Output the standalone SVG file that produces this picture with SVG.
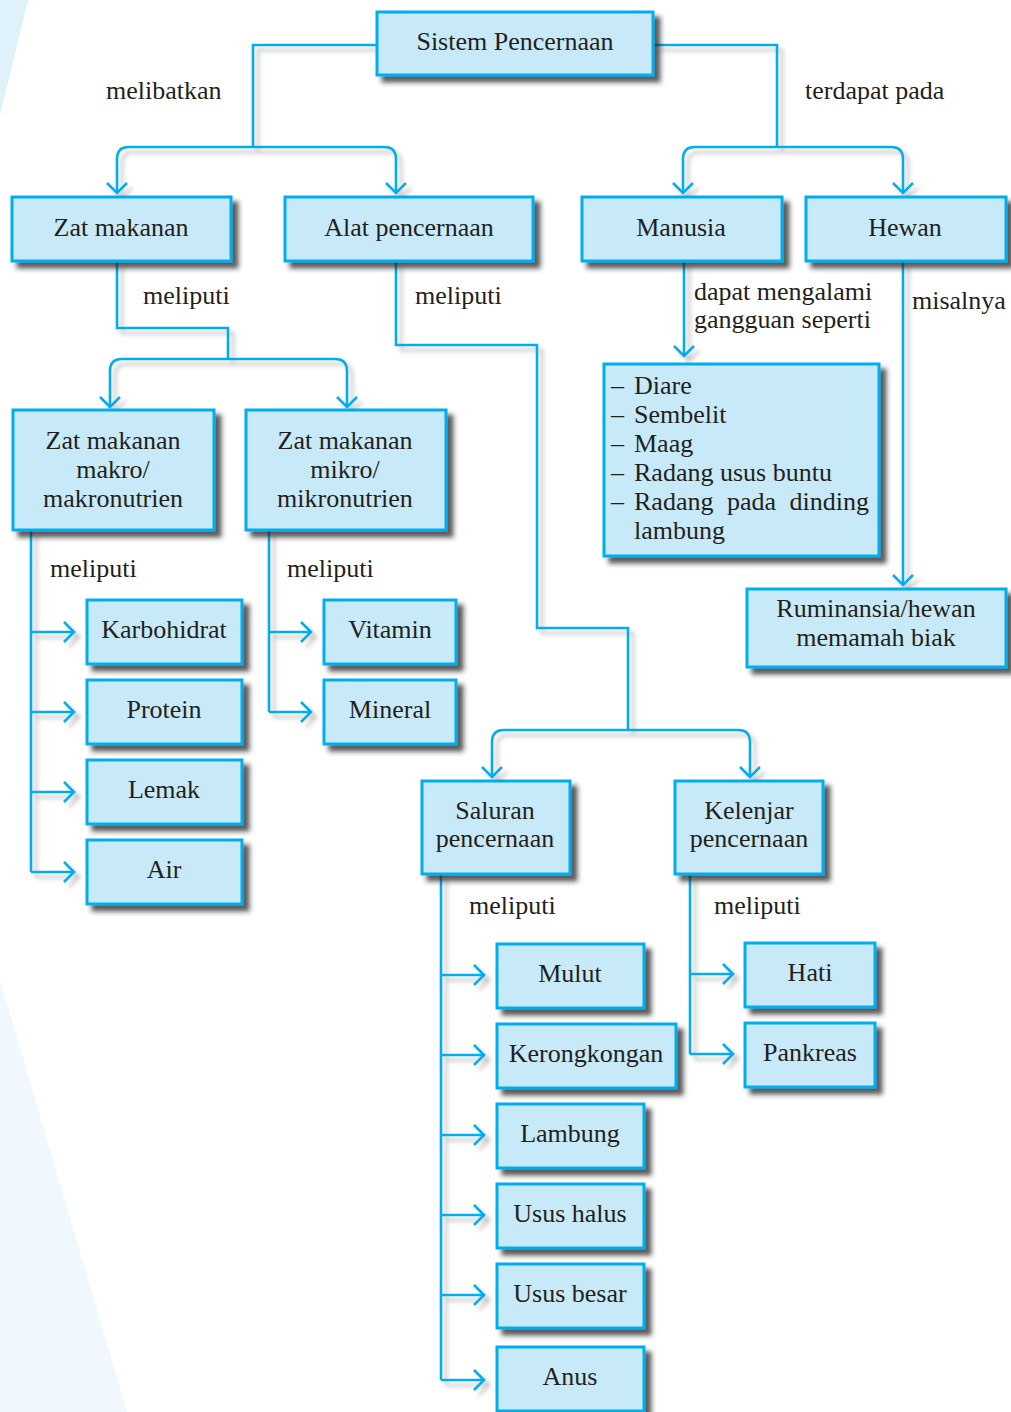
<svg xmlns="http://www.w3.org/2000/svg" width="1011" height="1412" viewBox="0 0 1011 1412">
<defs>
<filter id="bs" x="-10%" y="-10%" width="130%" height="140%">
<feDropShadow dx="6" dy="6" stdDeviation="2.5" flood-color="#222" flood-opacity="0.75"/>
</filter>
<filter id="ls" x="-5%" y="-5%" width="115%" height="115%">
<feDropShadow dx="5" dy="5" stdDeviation="2" flood-color="#777" flood-opacity="0.45"/>
</filter>
<marker id="ah" markerUnits="userSpaceOnUse" viewBox="-13 -12 15 24" refX="0" refY="0" markerWidth="15" markerHeight="24" orient="auto">
<path d="M-10,-10 L0,0 L-10,10" fill="none" stroke="#00aeef" stroke-width="2.6"/>
</marker>
</defs>
<style>
.box{fill:#c8e9f8;stroke:#00aeef;stroke-width:3;filter:url(#bs)}
.t{font-family:"Liberation Serif",serif;font-size:26px;fill:#231f20}
.c{text-anchor:middle}
.ln{fill:none;stroke:#00aeef;stroke-width:2.6}
.ar{marker-end:url(#ah)}
</style>
<rect width="1011" height="1412" fill="#ffffff"/>
<polygon points="0,0 28,0 0,115" fill="#dff1fb"/>
<polygon points="0,980 127,1412 0,1412" fill="#f0f8fd"/>

<g id="connectors" filter="url(#ls)">
<path class="ln" d="M376,45 H253 V147"/>
<path class="ln ar" d="M253,147 H129 Q117,147 117,159 V193"/>
<path class="ln ar" d="M253,147 H384 Q396,147 396,159 V193"/>
<path class="ln" d="M654,45 H777 V147"/>
<path class="ln ar" d="M777,147 H695 Q683,147 683,159 V193"/>
<path class="ln ar" d="M777,147 H891 Q903,147 903,159 V193"/>
<path class="ln ar" d="M684,262 V356"/>
<path class="ln ar" d="M903,262 V585"/>
<path class="ln" d="M117,262 V328 H228 V359"/>
<path class="ln ar" d="M228,359 H122 Q110,359 110,371 V407"/>
<path class="ln ar" d="M228,359 H335 Q347,359 347,371 V407"/>
<path class="ln" d="M31,531 V872"/>
<path class="ln ar" d="M31,632 H74"/>
<path class="ln ar" d="M31,712 H74"/>
<path class="ln ar" d="M31,792 H74"/>
<path class="ln ar" d="M31,872 H74"/>
<path class="ln" d="M269,531 V712"/>
<path class="ln ar" d="M269,632 H311"/>
<path class="ln ar" d="M269,712 H311"/>
<path class="ln" d="M396,262 V345 H537 V628 H628 V730"/>
<path class="ln ar" d="M628,730 H504 Q492,730 492,742 V777"/>
<path class="ln ar" d="M628,730 H738 Q750,730 750,742 V777"/>
<path class="ln" d="M441,875 V1380"/>
<path class="ln ar" d="M441,975 H484"/>
<path class="ln ar" d="M441,1055 H484"/>
<path class="ln ar" d="M441,1135 H484"/>
<path class="ln ar" d="M441,1215 H484"/>
<path class="ln ar" d="M441,1295 H484"/>
<path class="ln ar" d="M441,1380 H484"/>
<path class="ln" d="M690,875 V1054"/>
<path class="ln ar" d="M690,974 H733"/>
<path class="ln ar" d="M690,1054 H733"/>
</g>

<g id="labels">
<text class="t" x="106" y="99">melibatkan</text>
<text class="t" x="805" y="99">terdapat pada</text>
<text class="t" x="143" y="304">meliputi</text>
<text class="t" x="415" y="304">meliputi</text>
<text class="t" x="694" y="300">dapat mengalami</text>
<text class="t" x="694" y="328">gangguan seperti</text>
<text class="t" x="912" y="309">misalnya</text>
<text class="t" x="50" y="577">meliputi</text>
<text class="t" x="287" y="577">meliputi</text>
<text class="t" x="469" y="914">meliputi</text>
<text class="t" x="714" y="914">meliputi</text>
</g>

<g id="sistem"><rect class="box" x="377" y="12" width="276" height="63"/><text class="t c" x="515" y="50">Sistem Pencernaan</text></g>
<g id="zat"><rect class="box" x="12" y="197" width="219" height="64"/><text class="t c" x="121" y="236">Zat makanan</text></g>
<g id="alat"><rect class="box" x="285" y="197" width="248" height="64"/><text class="t c" x="409" y="236">Alat pencernaan</text></g>
<g id="manusia"><rect class="box" x="582" y="197" width="200" height="64"/><text class="t c" x="681" y="236">Manusia</text></g>
<g id="hewan"><rect class="box" x="806" y="197" width="200" height="64"/><text class="t c" x="905" y="236">Hewan</text></g>
<g id="makro"><rect class="box" x="13" y="410" width="201" height="120"/><text class="t c" x="113" y="449">Zat makanan</text><text class="t c" x="113" y="478">makro/</text><text class="t c" x="113" y="507">makronutrien</text></g>
<g id="mikro"><rect class="box" x="246" y="410" width="200" height="120"/><text class="t c" x="345" y="449">Zat makanan</text><text class="t c" x="345" y="478">mikro/</text><text class="t c" x="345" y="507">mikronutrien</text></g>
<g id="gangguan"><rect class="box" x="604" y="364" width="275" height="192"/>
<text class="t" x="611" y="394">–</text><text class="t" x="634" y="394">Diare</text>
<text class="t" x="611" y="423">–</text><text class="t" x="634" y="423">Sembelit</text>
<text class="t" x="611" y="452">–</text><text class="t" x="634" y="452">Maag</text>
<text class="t" x="611" y="481">–</text><text class="t" x="634" y="481">Radang usus buntu</text>
<text class="t" x="611" y="510">–</text><text class="t" x="634" y="510" word-spacing="7">Radang pada dinding</text>
<text class="t" x="634" y="539">lambung</text></g>
<g id="ruminansia"><rect class="box" x="747" y="589" width="259" height="78"/><text class="t c" x="876" y="617">Ruminansia/hewan</text><text class="t c" x="876" y="646">memamah biak</text></g>
<g id="karbohidrat"><rect class="box" x="87" y="600" width="155" height="64"/><text class="t c" x="164" y="638">Karbohidrat</text></g>
<g id="protein"><rect class="box" x="87" y="680" width="155" height="64"/><text class="t c" x="164" y="718">Protein</text></g>
<g id="lemak"><rect class="box" x="87" y="760" width="155" height="64"/><text class="t c" x="164" y="798">Lemak</text></g>
<g id="air"><rect class="box" x="87" y="840" width="155" height="64"/><text class="t c" x="164" y="878">Air</text></g>
<g id="vitamin"><rect class="box" x="324" y="600" width="132" height="64"/><text class="t c" x="390" y="638">Vitamin</text></g>
<g id="mineral"><rect class="box" x="324" y="680" width="132" height="64"/><text class="t c" x="390" y="718">Mineral</text></g>
<g id="saluran"><rect class="box" x="422" y="781" width="148" height="93"/><text class="t c" x="495" y="819">Saluran</text><text class="t c" x="495" y="847">pencernaan</text></g>
<g id="kelenjar"><rect class="box" x="675" y="781" width="148" height="93"/><text class="t c" x="749" y="819">Kelenjar</text><text class="t c" x="749" y="847">pencernaan</text></g>
<g id="mulut"><rect class="box" x="497" y="944" width="147" height="64"/><text class="t c" x="570" y="982">Mulut</text></g>
<g id="kerongkongan"><rect class="box" x="497" y="1024" width="179" height="64"/><text class="t c" x="586" y="1062">Kerongkongan</text></g>
<g id="lambung"><rect class="box" x="497" y="1104" width="147" height="64"/><text class="t c" x="570" y="1142">Lambung</text></g>
<g id="usushalus"><rect class="box" x="497" y="1184" width="147" height="64"/><text class="t c" x="570" y="1222">Usus halus</text></g>
<g id="ususbesar"><rect class="box" x="497" y="1264" width="147" height="64"/><text class="t c" x="570" y="1302">Usus besar</text></g>
<g id="anus"><rect class="box" x="497" y="1347" width="147" height="64"/><text class="t c" x="570" y="1385">Anus</text></g>
<g id="hati"><rect class="box" x="745" y="943" width="130" height="64"/><text class="t c" x="810" y="981">Hati</text></g>
<g id="pankreas"><rect class="box" x="745" y="1023" width="130" height="64"/><text class="t c" x="810" y="1061">Pankreas</text></g>
</svg>
